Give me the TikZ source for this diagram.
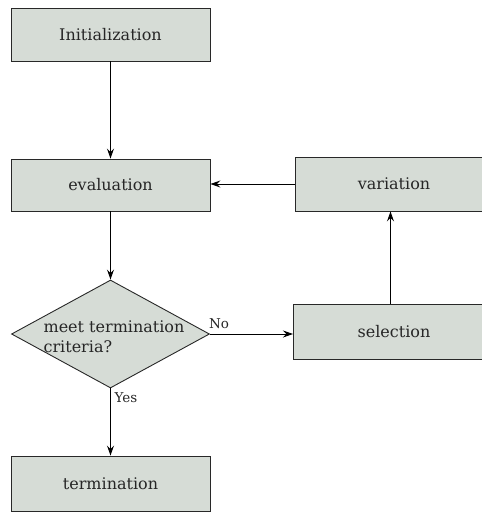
\documentclass[tikz,border=0pt]{standalone}
\usepackage{fontspec}
\setmainfont{DejaVu Serif}
\usetikzlibrary{arrows.meta,shapes.geometric}
\definecolor{boxfill}{RGB}{214,220,214}
\definecolor{edgecol}{RGB}{40,40,40}
\tikzset{
  box/.style={draw=edgecol,line width=0.9pt,fill=boxfill,inner sep=0pt,font=\fontsize{16}{18}\selectfont,text=black!85},
  boxtext/.style={font=\fontsize{16}{18}\selectfont,text=black!85,inner sep=0pt},
  decision/.style={draw=edgecol,line width=0.9pt,fill=boxfill,diamond,inner sep=0pt,minimum width=198pt,minimum height=108pt},
  arr/.style={draw=black,line width=0.9pt,-{Stealth[length=10pt,width=7pt,inset=3.5pt]}},
  lbl/.style={font=\fontsize{13.5}{15}\selectfont,inner sep=0pt,text=black!85}
}
\begin{document}
\begin{tikzpicture}[x=1pt,y=-1pt]
\useasboundingbox (0,0) rectangle (482,512);
\node[box,minimum width=199pt,minimum height=53pt] (init) at (110.5,34.5) {Initialization};
\node[box,minimum width=199pt,minimum height=52pt] (eval) at (110.5,185) {evaluation};
\node[box,minimum width=199pt,minimum height=54pt,anchor=west] (var) at (295,184) {};
\node[boxtext] (vartext) at (394,184) {variation};
\node[decision] (dec) at (110.5,334) {};
\node[boxtext,align=left,font=\fontsize{16}{20}\selectfont] (dectext) at (114,337) {meet termination\\criteria?};
\node[box,minimum width=199pt,minimum height=55pt,anchor=west] (sel) at (293,331.5) {};
\node[boxtext] (seltext) at (394,331.5) {selection};
\node[box,minimum width=199pt,minimum height=55pt] (term) at (110.5,483.5) {termination};
\draw[arr] (init.south) -- (eval.north);
\draw[arr] (eval.south) -- (dec.north);
\draw[arr] (dec.east) -- (sel.west |- dec.east);
\coordinate (selup) at (390.5,304);
\draw[arr] (selup) -- (selup |- var.south);
\draw[arr] (var.west) -- (eval.east |- var.west);
\draw[arr] (dec.south) -- (term.north);
\node[lbl,anchor=south west] (no) at ([xshift=-1pt,yshift=5pt]dec.east) {No};
\node[lbl,anchor=north west] (yes) at ([xshift=4pt,yshift=-4pt]dec.south) {Yes};
\end{tikzpicture}
\end{document}
